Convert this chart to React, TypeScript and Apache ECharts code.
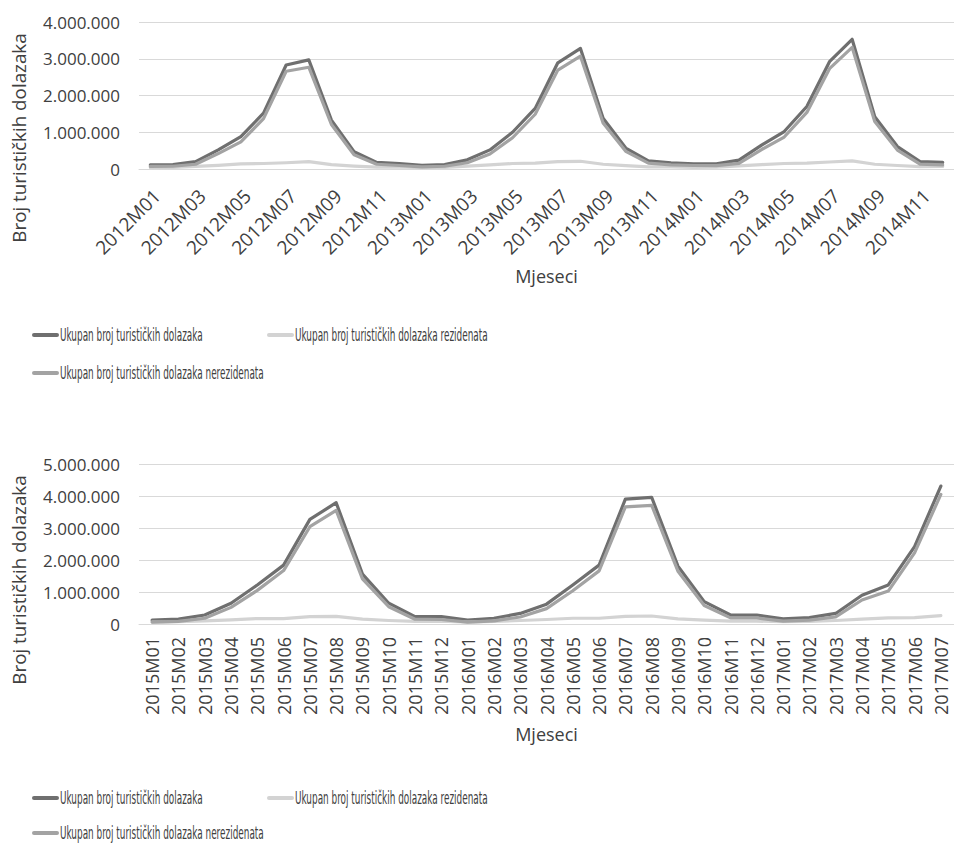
import React, { useEffect, useRef } from "react";
import * as echarts from "echarts";

// ---------- Chart 1: 2012M01 - 2014M12 ----------
const months1 = [
  "2012M01", "2012M02", "2012M03", "2012M04", "2012M05", "2012M06",
  "2012M07", "2012M08", "2012M09", "2012M10", "2012M11", "2012M12",
  "2013M01", "2013M02", "2013M03", "2013M04", "2013M05", "2013M06",
  "2013M07", "2013M08", "2013M09", "2013M10", "2013M11", "2013M12",
  "2014M01", "2014M02", "2014M03", "2014M04", "2014M05", "2014M06",
  "2014M07", "2014M08", "2014M09", "2014M10", "2014M11", "2014M12",
];
const total1 = [
  110000, 120000, 200000, 520000, 880000, 1520000, 2830000, 2970000, 1330000, 470000, 180000, 150000,
  100000, 120000, 250000, 520000, 1000000, 1650000, 2890000, 3280000, 1380000, 570000, 220000, 170000,
  140000, 140000, 240000, 650000, 1020000, 1700000, 2920000, 3530000, 1420000, 610000, 200000, 180000,
];
const residents1 = [
  40000, 45000, 70000, 100000, 140000, 150000, 170000, 200000, 120000, 80000, 50000, 55000,
  40000, 45000, 80000, 110000, 150000, 160000, 200000, 210000, 130000, 90000, 60000, 60000,
  45000, 50000, 85000, 120000, 150000, 160000, 190000, 220000, 130000, 95000, 65000, 70000,
];
const nonResidents1 = [
  70000, 75000, 130000, 420000, 740000, 1370000, 2660000, 2770000, 1210000, 390000, 130000, 95000,
  60000, 75000, 170000, 410000, 850000, 1490000, 2690000, 3070000, 1250000, 480000, 160000, 110000,
  95000, 90000, 155000, 530000, 870000, 1540000, 2730000, 3310000, 1290000, 515000, 135000, 110000,
];
const yMax1 = 4000000;

// ---------- Chart 2: 2015M01 - 2017M07 ----------
const months2 = [
  "2015M01", "2015M02", "2015M03", "2015M04", "2015M05", "2015M06",
  "2015M07", "2015M08", "2015M09", "2015M10", "2015M11", "2015M12",
  "2016M01", "2016M02", "2016M03", "2016M04", "2016M05", "2016M06",
  "2016M07", "2016M08", "2016M09", "2016M10", "2016M11", "2016M12",
  "2017M01", "2017M02", "2017M03", "2017M04", "2017M05", "2017M06",
  "2017M07",
];
const total2 = [
  120000, 150000, 280000, 650000, 1220000, 1840000, 3270000, 3790000, 1560000, 650000, 230000, 230000,
  120000, 180000, 330000, 620000, 1220000, 1840000, 3900000, 3960000, 1810000, 700000, 280000, 280000,
  160000, 200000, 330000, 900000, 1220000, 2420000, 4310000,
];
const residents2 = [
  60000, 70000, 100000, 130000, 170000, 170000, 230000, 240000, 150000, 110000, 80000, 90000,
  60000, 80000, 110000, 140000, 180000, 180000, 240000, 250000, 160000, 120000, 90000, 90000,
  70000, 80000, 110000, 150000, 190000, 200000, 260000,
];
const nonResidents2 = [
  60000, 80000, 180000, 520000, 1050000, 1670000, 3040000, 3550000, 1410000, 540000, 150000, 140000,
  60000, 100000, 220000, 480000, 1040000, 1660000, 3660000, 3710000, 1650000, 580000, 190000, 190000,
  90000, 120000, 220000, 750000, 1030000, 2220000, 4050000,
];
const yMax2 = 5000000;

const seriesNames = [
  "Ukupan broj turističkih dolazaka",
  "Ukupan broj turističkih dolazaka rezidenata",
  "Ukupan broj turističkih dolazaka nerezidenata",
];
const yAxisTitle = "Broj turističkih dolazaka";
const xAxisTitle = "Mjeseci";

const COLORS = ["#6f6f6f", "#d3d3d3", "#a3a3a3"];
const TEXT = "#404040";
const FONT = "'Open Sans', sans-serif";
const LEGEND_FONT = "'DejaVu Sans Condensed', sans-serif";

const fmt = (v: number) => String(v).replace(/\B(?=(\d{3})+(?!\d))/g, ".");

interface Cfg {
  months: string[];
  data: number[][];
  yMax: number;
  gridTop: number;
  gridHeight: number;
  rotate: number;
  labelInterval: number;
  labelSize: number;
  labelMargin: number;
  labelVAlign: string | undefined;
  nameGap: number;
  yTitleY: number;
  legendRow1: number;
  legendRow2: number;
}

// legend item layout: series index, icon x, row
const legendSlots = [
  { idx: 0, x: 33, row: 0 },
  { idx: 1, x: 268, row: 0 },
  { idx: 2, x: 33, row: 1 },
];

function legendGraphics(c: Cfg): any[] {
  return legendSlots.map((s) => {
    const y = s.row === 0 ? c.legendRow1 : c.legendRow2;
    return {
      type: "group",
      x: s.x,
      y,
      children: [
        {
          type: "line",
          shape: { x1: 1, y1: 0, x2: 24, y2: 0 },
          style: { stroke: COLORS[s.idx], lineWidth: 4, lineCap: "round" },
        },
        {
          type: "text",
          x: 27,
          y: 0,
          scaleX: 0.582,
          style: {
            text: seriesNames[s.idx],
            fontFamily: LEGEND_FONT,
            fontSize: 17,
            fill: TEXT,
            align: "left",
            verticalAlign: "middle",
          },
        },
      ],
    };
  });
}

function makeOption(c: Cfg): any {
  const axisLabel: any = {
    interval: c.labelInterval,
    rotate: c.rotate,
    margin: c.labelMargin,
    fontFamily: FONT,
    fontSize: c.labelSize,
    color: TEXT,
  };
  if (c.labelVAlign) axisLabel.verticalAlign = c.labelVAlign;
  return {
    animation: false,
    grid: { left: 139, right: -8, top: c.gridTop, height: c.gridHeight, containLabel: false },
    legend: { show: false, data: seriesNames },
    xAxis: {
      type: "category",
      data: c.months,
      boundaryGap: true,
      name: xAxisTitle,
      nameLocation: "middle",
      nameGap: c.nameGap,
      nameTextStyle: { fontFamily: FONT, fontSize: 18, color: TEXT },
      axisLine: { show: true, lineStyle: { color: "#d9d9d9", width: 1 } },
      axisTick: { show: false },
      axisLabel,
      splitLine: { show: false },
    },
    yAxis: {
      type: "value",
      min: 0,
      max: c.yMax,
      interval: 1000000,
      axisLine: { show: false },
      axisTick: { show: false },
      axisLabel: { formatter: fmt, fontFamily: FONT, fontSize: 17, color: TEXT, margin: 19 },
      splitLine: { lineStyle: { color: "#d9d9d9", width: 1 } },
    },
    graphic: [
      {
        type: "text",
        x: 19,
        y: c.yTitleY,
        rotation: Math.PI / 2,
        style: {
          text: yAxisTitle,
          fontFamily: FONT,
          fontSize: 18.8,
          fill: TEXT,
          align: "center",
          verticalAlign: "middle",
        },
      },
      ...legendGraphics(c),
    ],
    series: c.data.map((d, i) => ({
      name: seriesNames[i],
      type: "line",
      data: d,
      symbol: "none",
      smooth: false,
      itemStyle: { color: COLORS[i] },
      lineStyle: { color: COLORS[i], width: 3.2, cap: "round", join: "round" },
      z: 2 + i,
    })),
  };
}

function Chart({ cfg, top, height }: { cfg: Cfg; top: number; height: number }) {
  const ref = useRef<HTMLDivElement>(null);
  useEffect(() => {
    if (!ref.current) return;
    const chart = echarts.init(ref.current, undefined, { renderer: "svg" });
    chart.setOption(makeOption(cfg));
    return () => chart.dispose();
  }, [cfg]);
  return (
    <div
      ref={ref}
      style={{ position: "absolute", left: 0, top, width: 954, height }}
    />
  );
}

const cfg1: Cfg = {
  months: months1,
  data: [total1, residents1, nonResidents1],
  yMax: yMax1,
  gridTop: 22,
  gridHeight: 147,
  rotate: 45,
  labelInterval: 1,
  labelSize: 19,
  labelMargin: 17,
  labelVAlign: "top",
  nameGap: 98,
  yTitleY: 138,
  legendRow1: 335,
  legendRow2: 373,
};

const cfg2: Cfg = {
  months: months2,
  data: [total2, residents2, nonResidents2],
  yMax: yMax2,
  gridTop: 43,
  gridHeight: 160,
  rotate: 90,
  labelInterval: 0,
  labelSize: 18,
  labelMargin: 13,
  labelVAlign: undefined,
  nameGap: 101,
  yTitleY: 159,
  legendRow1: 377,
  legendRow2: 412,
};

export default function App() {
  return (
    <div style={{ position: "absolute", left: 0, top: 0, width: 954, height: 843, background: "#fff", overflow: "hidden" }}>
      <Chart cfg={cfg1} top={0} height={421} />
      <Chart cfg={cfg2} top={421} height={422} />
    </div>
  );
}
